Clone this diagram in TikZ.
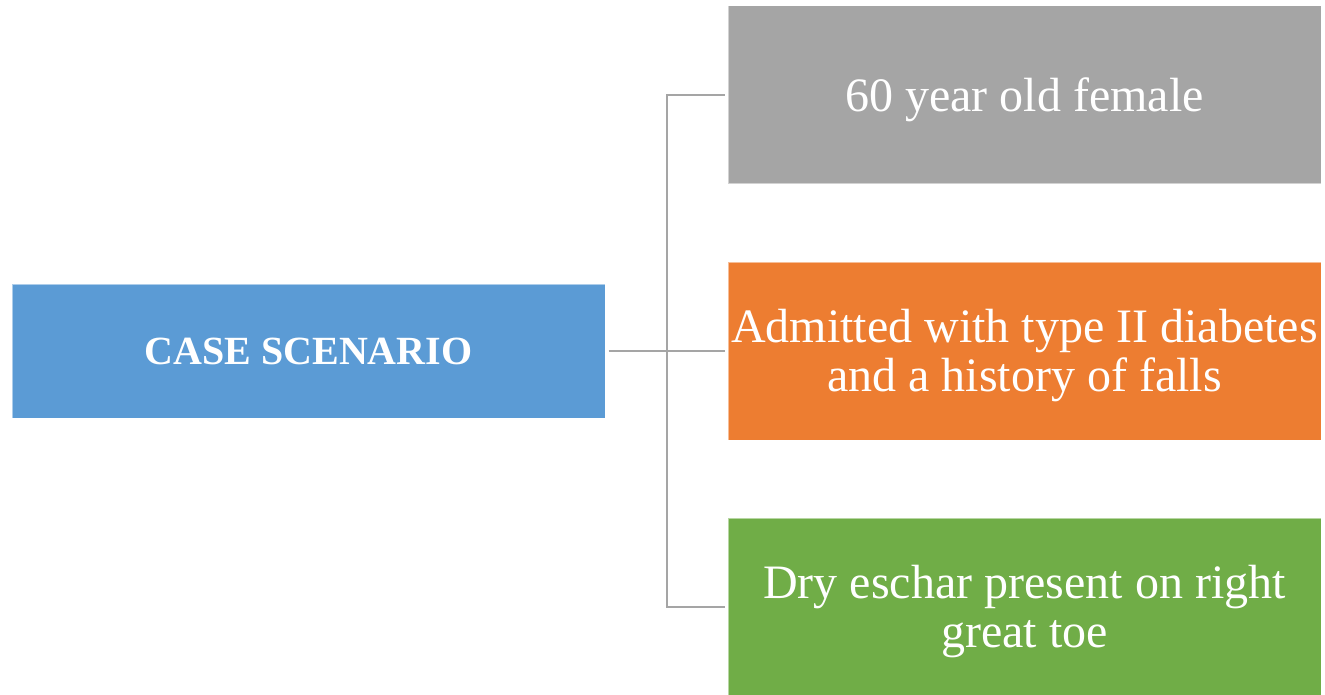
\documentclass[tikz,border=0pt]{standalone}
\usepackage{fontspec}
\setmainfont{Liberation Serif}
\definecolor{cblue}{HTML}{5B9BD5}
\definecolor{cgrey}{HTML}{A5A5A5}
\definecolor{corange}{HTML}{ED7D31}
\definecolor{cgreen}{HTML}{70AD47}
\definecolor{cline}{HTML}{A5A5A5}
\begin{document}
\begin{tikzpicture}[x=1pt,y=-1pt,
  box/.style={draw=white, draw opacity=0.5, line width=1pt, minimum width=593pt, text=white, align=center, inner sep=0pt},
  rootbox/.style={box, fill=cblue, minimum height=134pt, font=\fontsize{40}{46}\selectfont\bfseries},
  leafbox/.style={box, minimum height=178pt},
  leaftext/.style={label={[text=white, align=center, yshift=-5pt, font=\fontsize{48}{49}\selectfont]center:#1}},
  link/.style={draw=cline, line width=2pt}]
\useasboundingbox (0,0) rectangle (1325,695);
\node[rootbox] (root) at (308.5,351) {CASE SCENARIO};
\node[leafbox, fill=cgrey, leaftext={60 year old female}] (a) at (1024.5,95) {};
\node[leafbox, fill=corange, leaftext={Admitted with type II diabetes\\and a history of falls}] (b) at (1024.5,351) {};
\node[leafbox, fill=cgreen, leaftext={Dry eschar present on right\\great toe}] (c) at (1024.5,607) {};
\coordinate (j) at (667,351);
\draw[link] ([xshift=3pt]root.east) -- (j);
\draw[link] ([xshift=-3pt]a.west) -| (j |- c.west) -- ([xshift=-3pt]c.west);
\draw[link] (j) -- ([xshift=-3pt]b.west);
\end{tikzpicture}
\end{document}
